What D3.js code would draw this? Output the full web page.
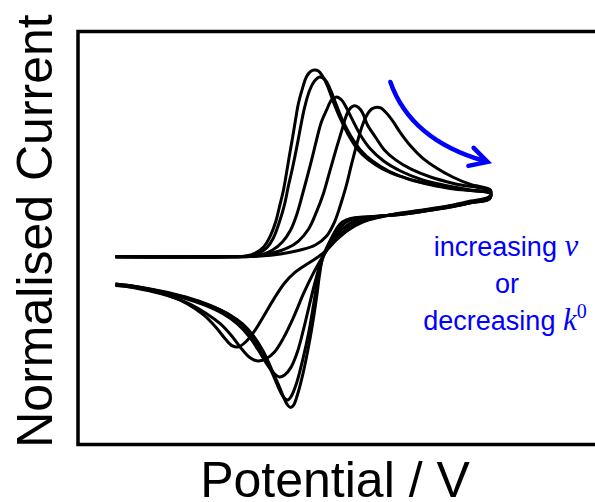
<!DOCTYPE html>
<html>
<head>
<meta charset="utf-8">
<script src="https://cdn.jsdelivr.net/npm/d3@7"></script>
<style>
  html, body { margin: 0; padding: 0; background: #fff; }
  svg { display: block; }
</style>
</head>
<body>
<svg id="chart" width="595" height="502"></svg>
<script>
// Simulated cyclic voltammograms: potential E (V) vs normalised current.
// Sweep 1 is the fastest electron transfer (reversible); sweep 5 the slowest.

const fwd1 = [[-0.5,0],[-0.193,0],[-0.153,0.004],[-0.127,0.020],[-0.105,0.052],[-0.087,0.111],[-0.073,0.185],[-0.063,0.265],[-0.052,0.356],[-0.044,0.446],[-0.036,0.542],[-0.028,0.633],[-0.020,0.729],[-0.012,0.819],[-0.001,0.900],[0.009,0.958],[0.020,0.987],[0.031,0.995],[0.041,0.990],[0.052,0.963],[0.065,0.911],[0.081,0.825],[0.100,0.734],[0.121,0.649],[0.145,0.574],[0.175,0.516],[0.212,0.468],[0.260,0.428],[0.313,0.398],[0.380,0.372],[0.447,0.353],[0.500,0.337]];
const rev1 = [[0.497,0.308],[0.447,0.287],[0.393,0.265],[0.327,0.244],[0.260,0.225],[0.207,0.217],[0.159,0.212],[0.127,0.204],[0.105,0.185],[0.089,0.148],[0.076,0.100],[0.063,0.047],[0.052,-0.007],[0.044,-0.097],[0.036,-0.219],[0.025,-0.363],[0.012,-0.507],[-0.001,-0.630],[-0.015,-0.736],[-0.025,-0.790],[-0.033,-0.803],[-0.041,-0.790],[-0.052,-0.747],[-0.065,-0.683],[-0.084,-0.598],[-0.105,-0.507],[-0.132,-0.422],[-0.161,-0.358],[-0.199,-0.305],[-0.247,-0.259],[-0.313,-0.214],[-0.380,-0.182],[-0.447,-0.158],[-0.500,-0.145]];

const fwd2 = [[-0.5,0],[-0.193,0],[-0.145,0.004],[-0.119,0.018],[-0.097,0.047],[-0.079,0.100],[-0.063,0.185],[-0.049,0.281],[-0.039,0.377],[-0.028,0.473],[-0.017,0.580],[-0.007,0.686],[0.004,0.793],[0.017,0.883],[0.031,0.937],[0.044,0.958],[0.057,0.947],[0.071,0.900],[0.087,0.819],[0.105,0.729],[0.127,0.644],[0.153,0.569],[0.185,0.510],[0.228,0.457],[0.281,0.414],[0.340,0.383],[0.407,0.359],[0.500,0.337]];
const rev2 = [[0.497,0.308],[0.447,0.287],[0.393,0.265],[0.327,0.244],[0.260,0.225],[0.207,0.217],[0.159,0.209],[0.127,0.196],[0.103,0.164],[0.084,0.111],[0.068,0.058],[0.052,-0.012],[0.039,-0.124],[0.028,-0.257],[0.015,-0.406],[-0.001,-0.550],[-0.017,-0.672],[-0.031,-0.742],[-0.041,-0.763],[-0.052,-0.747],[-0.065,-0.699],[-0.081,-0.624],[-0.103,-0.534],[-0.129,-0.443],[-0.159,-0.369],[-0.196,-0.310],[-0.247,-0.262],[-0.313,-0.217],[-0.380,-0.185],[-0.447,-0.158],[-0.500,-0.145]];

const fwd3 = [[-0.5,0],[-0.193,0],[-0.140,0.001],[-0.108,0.012],[-0.081,0.036],[-0.055,0.079],[-0.033,0.143],[-0.017,0.223],[-0.004,0.313],[0.009,0.409],[0.023,0.516],[0.036,0.622],[0.049,0.718],[0.063,0.782],[0.076,0.835],[0.089,0.851],[0.103,0.835],[0.116,0.793],[0.132,0.729],[0.153,0.649],[0.180,0.574],[0.215,0.510],[0.260,0.457],[0.313,0.414],[0.380,0.380],[0.447,0.356],[0.500,0.340]];
const rev3 = [[0.497,0.311],[0.447,0.289],[0.393,0.268],[0.327,0.247],[0.260,0.228],[0.207,0.217],[0.167,0.207],[0.132,0.185],[0.105,0.148],[0.081,0.095],[0.063,0.042],[0.049,-0.017],[0.033,-0.129],[0.017,-0.257],[0.001,-0.390],[-0.015,-0.507],[-0.033,-0.592],[-0.049,-0.630],[-0.063,-0.640],[-0.076,-0.624],[-0.095,-0.576],[-0.116,-0.507],[-0.143,-0.427],[-0.175,-0.358],[-0.212,-0.305],[-0.260,-0.259],[-0.313,-0.222],[-0.380,-0.188],[-0.447,-0.161],[-0.500,-0.148]];

const fwd4 = [[-0.5,0],[-0.193,0],[-0.127,0.004],[-0.081,0.020],[-0.041,0.047],[-0.012,0.084],[0.015,0.148],[0.036,0.239],[0.055,0.340],[0.071,0.452],[0.087,0.564],[0.103,0.670],[0.116,0.755],[0.127,0.793],[0.137,0.804],[0.148,0.795],[0.159,0.766],[0.172,0.702],[0.193,0.638],[0.217,0.569],[0.247,0.516],[0.287,0.468],[0.340,0.425],[0.407,0.388],[0.500,0.348]];
const rev4 = [[0.497,0.316],[0.447,0.292],[0.393,0.271],[0.327,0.249],[0.260,0.231],[0.207,0.215],[0.167,0.196],[0.132,0.169],[0.103,0.127],[0.076,0.068],[0.052,-0.001],[0.028,-0.086],[0.001,-0.198],[-0.025,-0.321],[-0.052,-0.432],[-0.076,-0.507],[-0.100,-0.545],[-0.121,-0.555],[-0.140,-0.539],[-0.161,-0.497],[-0.188,-0.427],[-0.220,-0.358],[-0.260,-0.299],[-0.313,-0.241],[-0.380,-0.196],[-0.447,-0.166],[-0.500,-0.150]];

const fwd5 = [[-0.5,0],[-0.193,0],[-0.113,0.004],[-0.060,0.015],[-0.007,0.036],[0.033,0.063],[0.063,0.111],[0.084,0.185],[0.100,0.276],[0.116,0.383],[0.129,0.489],[0.143,0.596],[0.156,0.686],[0.169,0.750],[0.183,0.787],[0.193,0.795],[0.207,0.793],[0.220,0.771],[0.239,0.724],[0.260,0.660],[0.287,0.590],[0.319,0.526],[0.356,0.473],[0.399,0.425],[0.447,0.385],[0.500,0.356]];
const rev5 = [[0.497,0.321],[0.447,0.297],[0.393,0.273],[0.327,0.252],[0.260,0.233],[0.207,0.212],[0.159,0.185],[0.121,0.143],[0.089,0.090],[0.063,0.036],[0.036,-0.007],[0.007,-0.044],[-0.023,-0.086],[-0.049,-0.140],[-0.076,-0.219],[-0.103,-0.310],[-0.129,-0.395],[-0.153,-0.454],[-0.172,-0.480],[-0.188,-0.475],[-0.207,-0.438],[-0.233,-0.374],[-0.265,-0.310],[-0.308,-0.251],[-0.359,-0.206],[-0.420,-0.172],[-0.500,-0.153]];

const sweeps = [[fwd1, rev1], [fwd2, rev2], [fwd3, rev3], [fwd4, rev4], [fwd5, rev5]];

// Trend arrow (in data units): start, bend control, end, and the two head barbs
const arrowPath = [[0.233, 0.931], [0.287, 0.622], [0.484, 0.510]];
const arrowHead = [[0.455, 0.580], [0.492, 0.505], [0.441, 0.484]];

const axisTitles = { x: "Potential / V", y: "Normalised Current" };
const noteLines = ["increasing ", "or", "decreasing "];

const svg = d3.select("#chart");

const x = d3.scaleLinear().domain([-0.6, 0.8]).range([78, 603]);
const y = d3.scaleLinear().domain([-1.0, 1.2]).range([444.5, 31.5]);

// Plot frame
svg.append("rect")
  .attr("x", x(-0.6)).attr("y", y(1.2))
  .attr("width", x(0.8) - x(-0.6)).attr("height", y(-1.0) - y(1.2))
  .attr("fill", "none").attr("stroke", "#000").attr("stroke-width", 3.5);

const line = d3.line()
  .x(d => x(d[0])).y(d => y(d[1]))
  .curve(d3.curveCatmullRom.alpha(0.5));

svg.append("g").selectAll("path")
  .data(sweeps)
  .join("path")
  .attr("d", d => line(d[0].concat(d[1])))
  .attr("fill", "none")
  .attr("stroke", "#000")
  .attr("stroke-width", 3)
  .attr("stroke-linejoin", "round");

// Axis titles
svg.append("text")
  .attr("x", 335).attr("y", 497)
  .attr("text-anchor", "middle")
  .attr("font-family", "'Liberation Sans', Arial, sans-serif")
  .attr("font-size", 50)
  .attr("fill", "#000")
  .text(axisTitles.x);

svg.append("text")
  .attr("transform", "translate(52,231) rotate(-90)")
  .attr("text-anchor", "middle")
  .attr("font-family", "'Liberation Sans', Arial, sans-serif")
  .attr("font-size", 50)
  .attr("fill", "#000")
  .text(axisTitles.y);

// Blue trend arrow
const blue = "#0000ff";
const ap = d3.path();
ap.moveTo(x(arrowPath[0][0]), y(arrowPath[0][1]));
ap.quadraticCurveTo(x(arrowPath[1][0]), y(arrowPath[1][1]), x(arrowPath[2][0]), y(arrowPath[2][1]));
svg.append("path").attr("d", ap.toString())
  .attr("fill", "none").attr("stroke", blue).attr("stroke-width", 4.5).attr("stroke-linecap", "round");
svg.append("path")
  .attr("d", d3.line().x(d => x(d[0])).y(d => y(d[1]))(arrowHead))
  .attr("fill", "none").attr("stroke", blue).attr("stroke-width", 4.5)
  .attr("stroke-linecap", "round").attr("stroke-linejoin", "miter");

// Annotation text
const note = svg.append("g")
  .attr("fill", blue)
  .attr("font-family", "'Liberation Sans', Arial, sans-serif")
  .attr("font-size", 27)
  .attr("text-anchor", "middle");

const t1 = note.append("text").attr("x", 506).attr("y", 256);
t1.append("tspan").text(noteLines[0]);
t1.append("tspan").attr("font-family", "'Liberation Serif', 'Times New Roman', serif")
  .attr("font-style", "italic").attr("font-size", 31).text("v");

note.append("text").attr("x", 507).attr("y", 293).text(noteLines[1]);

const t3 = note.append("text").attr("x", 505).attr("y", 330);
t3.append("tspan").text(noteLines[2]);
t3.append("tspan").attr("font-family", "'Liberation Serif', 'Times New Roman', serif")
  .attr("font-style", "italic").attr("font-size", 31).text("k");
t3.append("tspan").attr("font-family", "'Liberation Serif', 'Times New Roman', serif")
  .attr("font-size", 20).attr("dy", -12).text("0");
</script>
</body>
</html>
